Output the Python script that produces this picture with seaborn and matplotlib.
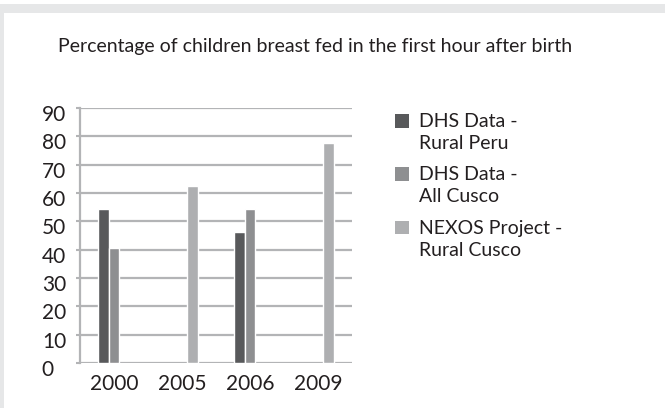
import pandas as pd
import seaborn as sns
import matplotlib.pyplot as plt
from matplotlib.patches import Rectangle, Patch
from matplotlib.legend_handler import HandlerPatch
from matplotlib.transforms import offset_copy

# chart data
years = ["2000", "2005", "2006", "2009"]
series = ["DHS Data -\nRural Peru", "DHS Data -\nAll Cusco", "NEXOS Project -\nRural Cusco"]
rural_peru = [54.5, None, 46.3, None]
all_cusco = [40.5, None, 54.5, None]
nexos = [None, 62.5, None, 77.7]
colors = ["#58595b", "#8e8f91", "#aeafb1"]

rows = []
for name, vals in zip(series, [rural_peru, all_cusco, nexos]):
    for yr, v in zip(years, vals):
        if v is not None:
            rows.append({"year": yr, "series": name, "value": v})
df = pd.DataFrame(rows)

sns.set_style("white")
plt.rcParams["font.family"] = ["Lato", "DejaVu Sans"]

fig = plt.figure(figsize=(6.65, 4.08), dpi=100)
fig.patch.set_facecolor("white")
# page background around the card
fig.patches.append(Rectangle((0, 1 - 13 / 408), 1, 9 / 408, transform=fig.transFigure,
                             facecolor="#e6e7e8", edgecolor="none", zorder=0))
fig.patches.append(Rectangle((0, 0), 4 / 665, 1 - 4 / 408, transform=fig.transFigure,
                             facecolor="#e6e7e8", edgecolor="none", zorder=0))

ax = fig.add_axes([80 / 665, 1 - 363 / 408, 272 / 665, 255 / 408])
sns.barplot(data=df, x="year", y="value", hue="series", order=years,
            hue_order=series, palette=colors, width=0.48, saturation=1,
            errorbar=None, ax=ax, legend=False)

ax.set_xlim(-0.5, 3.5)
ax.set_ylim(0, 90)
ax.set_yticks(range(0, 91, 10))
ax.set_xlabel("")
ax.set_ylabel("")
ax.set_axisbelow(True)
ax.grid(axis="y", color="#b3b4b6", linewidth=1.6)
ax.grid(axis="x", visible=False)
for s in ["top", "right", "bottom"]:
    ax.spines[s].set_visible(False)
ax.spines["left"].set_color("#b3b4b6")
ax.spines["left"].set_linewidth(1.6)

# x ticks: labels at centres, marks between categories
ax.set_xticks([0.5, 1.5, 2.5], minor=True)
ax.tick_params(axis="x", which="major", length=0, labelsize=15, pad=8, colors="#231f20")
ax.tick_params(axis="x", which="minor", length=6, width=1.5, color="#b3b4b6", direction="out")
ax.tick_params(axis="y", length=3, width=1.5, color="#b3b4b6", labelsize=15,
               pad=24.5, labelcolor="#231f20", left=True)
for lab in ax.get_yticklabels():
    lab.set_ha("left")
    lab.set_transform(offset_copy(lab.get_transform(), fig=fig, x=0, y=-5, units="dots"))


# legend squares sit next to the first line of each label
def top_square(legend, orig_handle, xdescent, ydescent, width, height, fontsize):
    return Rectangle((-xdescent, -ydescent + 0.62 * fontsize), width, height)


handles = [Patch(facecolor=c, edgecolor="none") for c in colors]
leg = fig.legend(handles, series, loc="upper left", bbox_to_anchor=(395 / 665, 1 - 113 / 408),
                 frameon=False, fontsize=14, handlelength=0.72, handleheight=0.72,
                 handletextpad=0.5, labelspacing=0.75, borderpad=0, borderaxespad=0,
                 labelcolor="#231f20",
                 handler_map={Patch: HandlerPatch(patch_func=top_square)})
for t in leg.get_texts():
    t.set_linespacing(1.35)

fig.text(58 / 665, 1 - 52 / 408, "Percentage of children breast fed in the first hour after birth",
         fontsize=14, color="#231f20", va="baseline", ha="left")

fig.savefig("out.png", dpi=100)
